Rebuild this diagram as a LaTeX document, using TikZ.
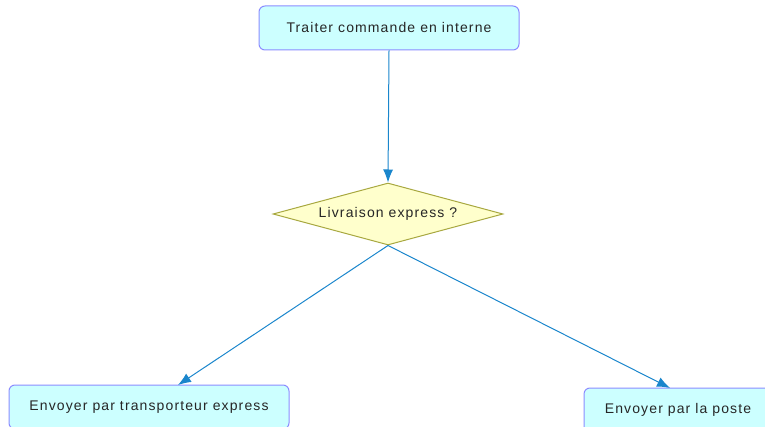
\documentclass[tikz,border=0pt]{standalone}
\usepackage{fontspec}
\setmainfont{Liberation Sans}[LetterSpace=8]
\usetikzlibrary{arrows.meta,shapes.geometric}
\definecolor{boxfill}{HTML}{CCFFFF}
\definecolor{boxline}{HTML}{8C8CFF}
\definecolor{diafill}{HTML}{FFFFCC}
\definecolor{dialine}{HTML}{A8A840}
\definecolor{arrowc}{HTML}{1A86CC}
\tikzset{
  lbl/.style={font=\fontsize{14pt}{16pt}\selectfont, text=black!85},
  actbox/.style={lbl, draw=boxline, fill=boxfill, line width=1pt, rounded corners=6pt,
    minimum height=44pt, inner sep=0pt},
  decbox/.style={lbl, draw=dialine, fill=diafill, line width=1pt, diamond, aspect=3.71,
    minimum width=230pt, minimum height=62pt, inner sep=0pt},
  flow/.style={draw=arrowc, line width=1pt, -{Latex[length=13pt,width=10pt]}}
}
\begin{document}
\begin{tikzpicture}[x=1pt,y=-1pt]
\useasboundingbox (0,0) rectangle (765,427);
\clip (0,0) rectangle (765,427);
\node[actbox, minimum width=260pt] (a) at (389,28) {Traiter commande en interne};
\node[decbox] (d) at (388,214) {Livraison express ?};
\node[actbox, minimum width=280pt] (b) at (149,407) {Envoyer par transporteur express};
\node[actbox, minimum width=188pt] (c) at (678,410) {Envoyer par la poste};
\coordinate (bt) at (178,385);
\coordinate (ct) at (670,388);
\draw[flow] (a.south) -- (d.north);
\draw[flow] (d.south) -- (bt);
\draw[flow] (d.south) -- (ct);
\end{tikzpicture}
\end{document}
